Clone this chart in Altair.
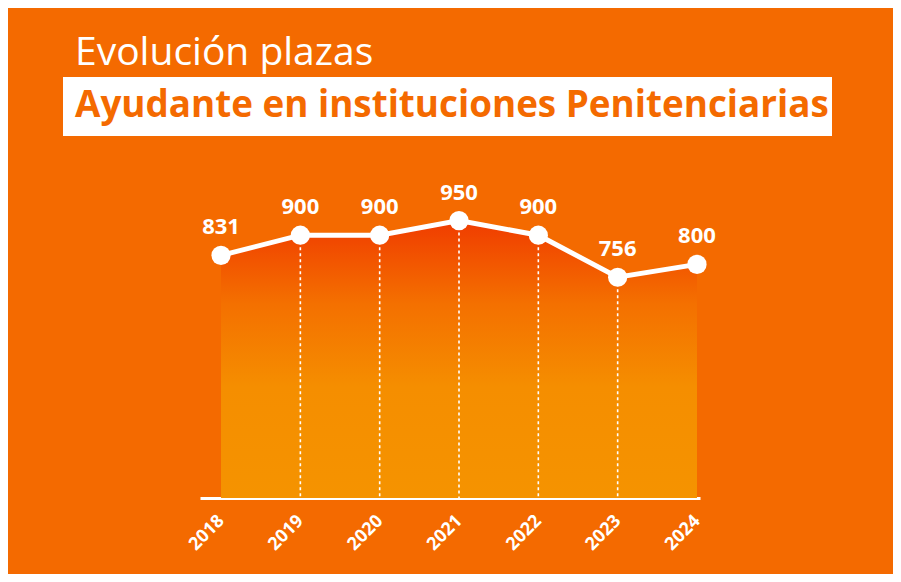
import altair as alt
import pandas as pd

years = [2018, 2019, 2020, 2021, 2022, 2023, 2024]
plazas = [831, 900, 900, 950, 900, 756, 800]
title_top = "Evolución plazas"
title_main = "Ayudante en instituciones Penitenciarias"

BG = "#F46A00"
df = pd.DataFrame({"year": years, "plazas": plazas})
df["inner"] = [(y != years[0]) and (y != years[-1]) for y in years]

x = alt.X(
    "year:Q",
    scale=alt.Scale(domain=[2017.735, 2024.038], nice=False, zero=False),
    axis=alt.Axis(
        values=years, format="d", title=None, grid=False, ticks=False,
        labelAngle=-45, labelAlign="right", labelBaseline="middle",
        labelPadding=20, labelFontSize=18, labelFont="Open Sans",
        labelFontWeight="bold", labelColor="white", labelFlush=False,
        labelOverlap=False, domainColor="white", domainWidth=3,
    ),
)
y = alt.Y("plazas:Q", scale=alt.Scale(domain=[0, 1000], nice=False), axis=None)

base = alt.Chart(df)

grad = alt.Gradient(
    gradient="linear",
    stops=[
        alt.GradientStop(color="#F03C00", offset=0),
        alt.GradientStop(color="#F47000", offset=0.3),
        alt.GradientStop(color="#F58E00", offset=0.6),
        alt.GradientStop(color="#F59300", offset=1),
    ],
    x1=1, x2=1, y1=0, y2=1,
)

area = base.mark_area(color=grad, opacity=1).encode(x=x, y=y)
rules = base.transform_filter("datum.inner").mark_rule(
    color="white", strokeWidth=1.6, strokeDash=[3, 3]
).encode(x="year:Q", y="plazas:Q", y2=alt.datum(0))
line = base.mark_line(color="white", strokeWidth=5).encode(x="year:Q", y="plazas:Q")
points = base.mark_circle(color="white", opacity=1, size=370).encode(x="year:Q", y="plazas:Q")
labels = base.mark_text(
    color="white", font="Open Sans", fontWeight="bold", fontSize=22,
    dy=-21, baseline="alphabetic", align="center",
).encode(x="year:Q", y="plazas:Q", text="plazas:Q")

tdf = pd.DataFrame({"t1": [title_top], "t2": [title_main]})
tbase = alt.Chart(tdf)
box = tbase.mark_rect(color="white").encode(
    x=alt.value(-137), x2=alt.value(632), y=alt.value(-129), y2=alt.value(-70)
)
t1 = tbase.mark_text(
    color="white", font="Open Sans", fontWeight="normal", fontSize=39,
    align="left", baseline="alphabetic",
).encode(x=alt.value(-125), y=alt.value(-141), text="t1:N")
t2 = tbase.mark_text(
    color=BG, font="Open Sans", fontWeight="bold", fontSize=36.8,
    align="left", baseline="alphabetic",
).encode(x=alt.value(-125), y=alt.value(-89), text="t2:N")

chart = alt.layer(area, rules, line, points, labels, box, t1, t2).properties(
    width=500, height=292,
    autosize=alt.AutoSizeParams(type="none"),
    padding={"left": 192, "top": 198, "right": 193, "bottom": 76},
    background=BG,
).configure_view(stroke=None)

chart.save("out.html", embed_options={"renderer": "svg", "actions": False})
